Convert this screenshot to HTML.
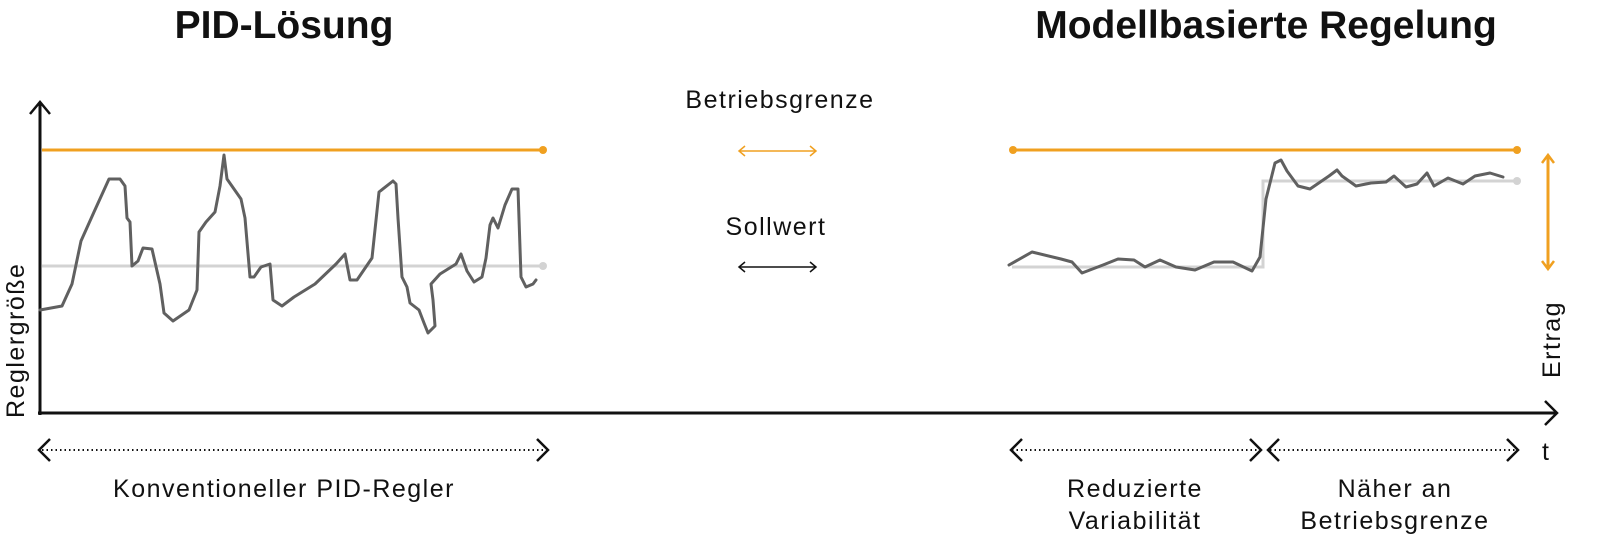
<!DOCTYPE html>
<html><head><meta charset="utf-8"><style>
html,body{margin:0;padding:0;background:#fff;}
svg{display:block;}
text{font-family:"Liberation Sans","DejaVu Sans",sans-serif;fill:#111;}
.l{font-size:25px;letter-spacing:1.5px;}
</style></head><body>
<svg width="1600" height="545" viewBox="0 0 1600 545" xmlns="http://www.w3.org/2000/svg">
<text x="284" y="38" font-size="39" font-weight="bold" text-anchor="middle">PID-Lösung</text>
<text x="1266" y="38" font-size="39" font-weight="bold" text-anchor="middle">Modellbasierte Regelung</text>
<text x="780" y="108" class="l" text-anchor="middle">Betriebsgrenze</text>
<text x="776" y="235" class="l" text-anchor="middle">Sollwert</text>
<line x1="739" y1="151" x2="816" y2="151" stroke="#f0a020" stroke-width="1.5"/>
<polyline points="745,146 739,151 745,156" fill="none" stroke="#f0a020" stroke-width="1.5"/>
<polyline points="810,146 816,151 810,156" fill="none" stroke="#f0a020" stroke-width="1.5"/>
<line x1="739" y1="267" x2="816" y2="267" stroke="#111" stroke-width="1.5"/>
<polyline points="745,262 739,267 745,272" fill="none" stroke="#111" stroke-width="1.5"/>
<polyline points="810,262 816,267 810,272" fill="none" stroke="#111" stroke-width="1.5"/>
<line x1="40" y1="102" x2="40" y2="415" stroke="#111" stroke-width="3"/>
<polyline points="30,114 40,102 50,114" fill="none" stroke="#111" stroke-width="2.5"/>
<line x1="38" y1="413" x2="1557" y2="413" stroke="#111" stroke-width="3"/>
<polyline points="1545,401 1557,413 1545,425" fill="none" stroke="#111" stroke-width="2.5"/>
<text transform="translate(24,418) rotate(-90)" class="l">Reglergröße</text>
<text transform="translate(1560,378) rotate(-90)" class="l">Ertrag</text>
<text x="1542" y="460" class="l">t</text>
<line x1="42" y1="150" x2="543" y2="150" stroke="#f0a020" stroke-width="3"/>
<circle cx="543" cy="150" r="4" fill="#f0a020"/>
<line x1="42" y1="266" x2="543" y2="266" stroke="#d3d3d3" stroke-width="3"/>
<circle cx="543" cy="266" r="4" fill="#d3d3d3"/>
<polyline fill="none" stroke="#606060" stroke-width="3" stroke-linejoin="round" stroke-linecap="round" points="40,310 62,306 72,284 81,241 94,212 109,179 120,179 125,186 127,218 130,222 132,266 138,261 143,248 152,249 160,284 164,313 173,321 189,310 197,290 199,232 206,222 215,212 220,186 224,155 227,179 241,199 245,218 250,277 254,277 261,267 270,264 273,300 282,306 294,297 315,284 336,264 345,254 350,280 357,280 372,258 379,192 393,181 396,184 398,218 402,277 407,287 410,303 419,310 424,323 428,333 435,326 433,300 431,284 440,274 456,264 461,254 467,271 474,282 482,277 486,258 490,225 493,218 498,228 505,205 512,189 518,189 521,277 526,287 533,284 536,280"/>
<line x1="1013" y1="150" x2="1517" y2="150" stroke="#f0a020" stroke-width="3"/>
<circle cx="1013" cy="150" r="4" fill="#f0a020"/>
<circle cx="1517" cy="150" r="4" fill="#f0a020"/>
<polyline points="1012,267 1263,267 1263,181 1517,181" fill="none" stroke="#d3d3d3" stroke-width="3"/>
<circle cx="1517" cy="181" r="4" fill="#d3d3d3"/>
<polyline fill="none" stroke="#606060" stroke-width="3" stroke-linejoin="round" stroke-linecap="round" points="1009,265 1032,252 1061,259 1072,262 1082,273 1103,265 1118,259 1134,260 1145,267 1160,260 1176,267 1195,270 1214,262 1233,262 1252,271 1260,257 1266,199 1275,163 1281,160 1287,171 1298,186 1310,189 1329,176 1337,170 1342,176 1356,186 1371,183 1386,182 1394,176 1406,187 1417,184 1427,173 1434,186 1448,178 1463,184 1475,176 1490,173 1503,177"/>
<line x1="1548" y1="156" x2="1548" y2="268" stroke="#f0a020" stroke-width="3"/>
<polyline points="1542,163 1548,155 1554,163" fill="none" stroke="#f0a020" stroke-width="2.5"/>
<polyline points="1542,261 1548,269 1554,261" fill="none" stroke="#f0a020" stroke-width="2.5"/>
<g stroke="#111" fill="none">
<line x1="42" y1="450" x2="545" y2="450" stroke-width="2" stroke-dasharray="1.5 3"/>
<polyline points="50,439 39,450 50,461" stroke-width="2.5"/>
<polyline points="537,439 548,450 537,461" stroke-width="2.5"/>
<line x1="1012" y1="450" x2="1259" y2="450" stroke-width="2" stroke-dasharray="1.5 3"/>
<polyline points="1022,439 1011,450 1022,461" stroke-width="2.5"/>
<polyline points="1250,439 1261,450 1250,461" stroke-width="2.5"/>
<line x1="1270" y1="450" x2="1516" y2="450" stroke-width="2" stroke-dasharray="1.5 3"/>
<polyline points="1279,439 1268,450 1279,461" stroke-width="2.5"/>
<polyline points="1507,439 1518,450 1507,461" stroke-width="2.5"/>
</g>
<text x="284" y="497" class="l" text-anchor="middle">Konventioneller PID-Regler</text>
<text x="1135" y="497" class="l" text-anchor="middle">Reduzierte</text>
<text x="1135" y="529" class="l" text-anchor="middle">Variabilität</text>
<text x="1395" y="497" class="l" text-anchor="middle">Näher an</text>
<text x="1395" y="529" class="l" text-anchor="middle">Betriebsgrenze</text>
</svg>
</body></html>
